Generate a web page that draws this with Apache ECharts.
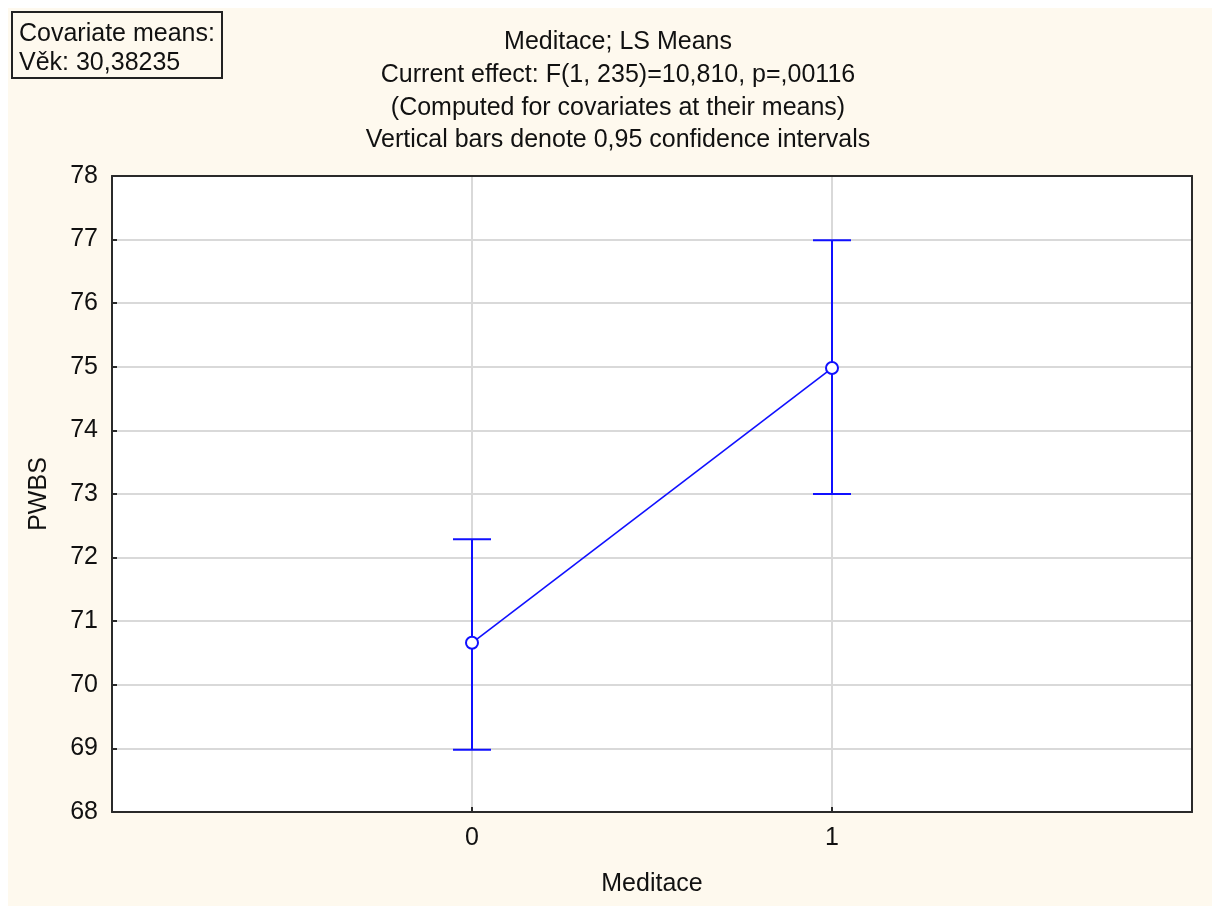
<!DOCTYPE html>
<html>
<head>
<meta charset="utf-8">
<script src="https://cdn.jsdelivr.net/npm/echarts@6/dist/echarts.min.js"></script>
<style>html,body{margin:0;padding:0;background:#fff;}#c{width:1216px;height:908px;}</style>
</head>
<body>
<div id="c"></div>
<script>
const categories = [0, 1];
const means = [70.66, 74.98];
const lowerCI = [68.98, 73.0];
const upperCI = [72.29, 76.99];
const yTicks = [68, 69, 70, 71, 72, 73, 74, 75, 76, 77, 78];
const titleLines = [
  'Meditace; LS Means',
  'Current effect: F(1, 235)=10,810, p=,00116',
  '(Computed for covariates at their means)',
  'Vertical bars denote 0,95 confidence intervals'
];
const covariateLines = ['Covariate means:', 'Věk: 30,38235'];

const FONT = 'Liberation Sans, Arial, sans-serif';
const BLUE = '#1010FF';
const AX = '#2a2a2a';

const frameAxis = { show: true, onZero: false, lineStyle: { color: AX, width: 2 } };

const chart = echarts.init(document.getElementById('c'));
chart.setOption({
  animation: false,
  backgroundColor: '#ffffff',
  graphic: [
    { type: 'rect', z: -10, shape: { x: 8, y: 8, width: 1204, height: 898 }, style: { fill: '#FEF9EE' } },
    { type: 'rect', z: 10, shape: { x: 12, y: 12, width: 210, height: 66 }, style: { fill: '#FEF9EE', stroke: '#222', lineWidth: 2 } },
    { type: 'text', z: 11, left: 19, top: 20, style: { text: covariateLines.join('\n'), font: '25px ' + FONT, lineHeight: 29, fill: '#111' } }
  ],
  title: {
    text: titleLines.join('\n'),
    left: 613, top: 21, textAlign: 'center',
    textStyle: { fontFamily: FONT, fontSize: 25, fontWeight: 'normal', color: '#111', lineHeight: 32.7 }
  },
  grid: { left: 112, top: 176, right: 24, bottom: 96, show: true, backgroundColor: '#ffffff', borderColor: AX, borderWidth: 0 },
  xAxis: [{
    type: 'value', min: -1, max: 2, interval: 1,
    name: 'Meditace', nameLocation: 'middle', nameGap: 60,
    nameTextStyle: { fontFamily: FONT, fontSize: 25, color: '#111' },
    axisLine: frameAxis,
    axisTick: { show: true, inside: true, length: 5, lineStyle: { color: AX, width: 2 } },
    axisLabel: { margin: 14, fontFamily: FONT, fontSize: 25, color: '#111',
      formatter: v => categories.indexOf(v) >= 0 ? String(v) : '' },
    splitLine: { show: true, lineStyle: { color: '#d9d9d9', width: 2 } },
    z: 5
  }, {
    type: 'value', position: 'top', min: -1, max: 2, interval: 1,
    axisLine: frameAxis, axisTick: { show: false }, axisLabel: { show: false }, splitLine: { show: false }, z: 5
  }],
  yAxis: [{
    type: 'value', min: yTicks[0], max: yTicks[yTicks.length - 1], interval: 1,
    name: 'PWBS', nameLocation: 'middle', nameGap: 60, nameRotate: 90,
    nameTextStyle: { fontFamily: FONT, fontSize: 25, color: '#111' },
    axisLine: frameAxis,
    axisTick: { show: true, inside: true, length: 5, lineStyle: { color: AX, width: 2 } },
    axisLabel: { margin: 14, fontFamily: FONT, fontSize: 25, color: '#111' },
    splitLine: { show: true, lineStyle: { color: '#d9d9d9', width: 2 } },
    z: 5
  }, {
    type: 'value', position: 'right', min: yTicks[0], max: yTicks[yTicks.length - 1], interval: 1,
    axisLine: frameAxis, axisTick: { show: false }, axisLabel: { show: false }, splitLine: { show: false }, z: 5
  }],
  series: [
    {
      type: 'custom',
      data: categories.map((c, i) => [c, lowerCI[i], upperCI[i]]),
      renderItem: function (params, api) {
        const x = api.value(0);
        const lo = api.coord([x, api.value(1)]);
        const hi = api.coord([x, api.value(2)]);
        const hw = 19;
        const st = { stroke: BLUE, lineWidth: 2 };
        return {
          type: 'group',
          children: [
            { type: 'line', shape: { x1: lo[0], y1: lo[1], x2: hi[0], y2: hi[1] }, style: st },
            { type: 'line', shape: { x1: lo[0] - hw, y1: lo[1], x2: lo[0] + hw, y2: lo[1] }, style: st },
            { type: 'line', shape: { x1: hi[0] - hw, y1: hi[1], x2: hi[0] + hw, y2: hi[1] }, style: st }
          ]
        };
      },
      z: 20
    },
    {
      type: 'line',
      data: categories.map((c, i) => [c, means[i]]),
      symbol: 'circle', symbolSize: 12,
      itemStyle: { color: '#ffffff', borderColor: BLUE, borderWidth: 2 },
      lineStyle: { color: BLUE, width: 1.6 },
      z: 21
    }
  ]
});
</script>
</body>
</html>
